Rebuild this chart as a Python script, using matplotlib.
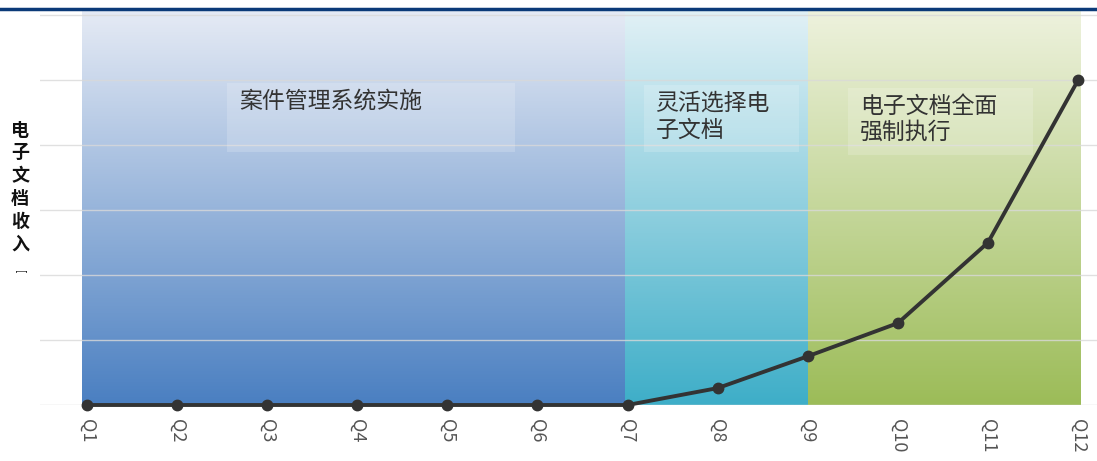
import numpy as np
import matplotlib.pyplot as plt
from matplotlib.colors import LinearSegmentedColormap

plt.rcParams['font.family'] = ['Noto Sans CJK SC', 'DejaVu Sans']

quarters = ['Q1', 'Q2', 'Q3', 'Q4', 'Q5', 'Q6', 'Q7', 'Q8', 'Q9', 'Q10', 'Q11', 'Q12']
revenue = [0, 0, 0, 0, 0, 0, 0, 0.26, 0.75, 1.26, 2.5, 5.0]

# phases: (start, end, top colour, bottom colour)
phases = [
    (-0.05, 5.97, '#e6ebf5', '#4a7fc1'),
    (5.97, 8.0, '#e2f1f6', '#3eaec8'),
    (8.0, 11.02, '#eef2de', '#9cbc58'),
]
phase_text = ['案件管理系统实施', '灵活选择电\n子文档', '电子文档全面\n强制执行']

fig = plt.figure(figsize=(10.97, 4.61), dpi=100)
ax = fig.add_axes([40 / 1097, 1 - 405 / 461, 1057 / 1097, 395 / 461])
ax.set_xlim(-0.52, 11.21)
ax.set_ylim(0, 6.08)

grad = np.linspace(0, 1, 256).reshape(-1, 1)
for x0, x1, top, bottom in phases:
    cmap = LinearSegmentedColormap.from_list('g', [top, bottom])
    ax.imshow(grad, extent=(x0, x1, 0, 6.08), aspect='auto', cmap=cmap,
              origin='upper', zorder=0)

for y in range(1, 7):
    ax.axhline(y, color='#d9d9d9', lw=1, zorder=1, alpha=0.8)
ax.axhline(0, color='#d9d9d9', lw=1, zorder=1)

# text boxes inside each phase
boxes = [(1.56, 4.75), (6.18, 7.9), (8.45, 10.5)]
box_y = [(3.9, 4.95), (3.9, 4.92), (3.85, 4.88)]
for (bx0, bx1), (by0, by1), txt in zip(boxes, box_y, phase_text):
    ax.fill_between([bx0, bx1], by0, by1, color='white', alpha=0.18, lw=0, zorder=2)
    ax.text(bx0 + 0.13, by1 - 0.1, txt, fontsize=16.5, color='#333333',
            va='top', ha='left', linespacing=1.2, zorder=3)

x = np.arange(len(quarters))
ax.plot(x, revenue, color='#333333', lw=2.8, marker='o', markersize=7.5,
        zorder=4, clip_on=False)

ax.set_xticks(x)
ax.set_xticklabels(quarters, rotation=-90, fontsize=13, color='#555555')
ax.tick_params(axis='x', length=0, pad=10)
ax.set_yticks([])
for s in ax.spines.values():
    s.set_visible(False)

# y-axis label, stacked characters
fig.text(20 / 1097, 1 - 187 / 461, '电\n子\n文\n档\n收\n入', fontsize=13,
         fontweight='bold', ha='center', va='center', linespacing=1.25,
         color='#111111')
fig.text(20 / 1097, 1 - 272 / 461, '[', fontsize=7, rotation=-90,
         ha='center', va='center', color='#111111')

# header rule
fig.add_artist(plt.Line2D([0, 1], [1 - 9 / 461, 1 - 9 / 461], color='#0b3a78',
                          lw=2.5, transform=fig.transFigure))

fig.savefig('out.png', dpi=100)
